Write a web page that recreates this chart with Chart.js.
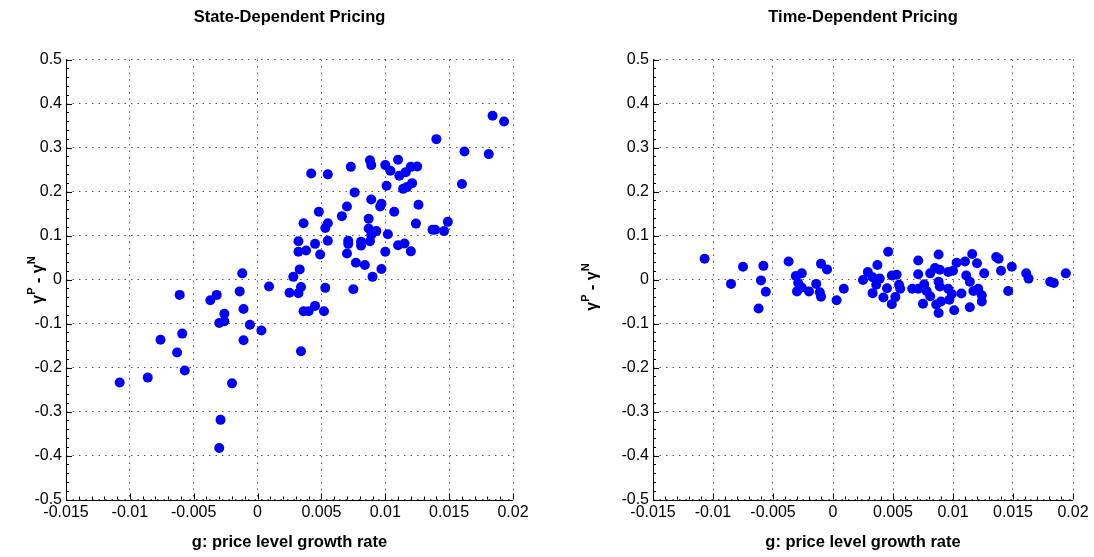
<!DOCTYPE html>
<html>
<head>
<meta charset="utf-8">
<script src="https://cdn.jsdelivr.net/npm/chart.js@4.4.1/dist/chart.umd.min.js"></script>
<style>
  html, body { margin: 0; padding: 0; background: #fff; }
  #wrap { position: relative; width: 1094px; height: 557px; }
  canvas { position: absolute; top: 0; }
  #stateChart { left: 0; }
  #timeChart { left: 547px; }
</style>
</head>
<body>
<div id="wrap">
  <canvas id="stateChart" width="547" height="557"></canvas>
  <canvas id="timeChart" width="547" height="557"></canvas>
</div>
<script>
const xTicks = [-0.015, -0.01, -0.005, 0, 0.005, 0.01, 0.015, 0.02]
const yTicks = [-0.5, -0.4, -0.3, -0.2, -0.1, 0, 0.1, 0.2, 0.3, 0.4, 0.5]

// state-dependent pricing: g vs gamma^P - gamma^N
const stateX = [
  0.0184, 0.0193, 0.0140, 0.0162, 0.0181, 0.0088, 0.0089, 0.0110, 0.0100, 0.0104,
  0.0120, 0.0125, 0.0116, 0.0111, 0.0073, 0.0042, 0.0055, 0.0160, 0.0101, 0.0114,
  0.0117, 0.0121, 0.0076, 0.0089, 0.0070, 0.0097, 0.0096, 0.0126, 0.0107, 0.0048,
  0.0066, 0.0087, 0.0036, 0.0055, 0.0053, 0.0124, 0.0149, 0.0137, 0.0139, 0.0146,
  0.0087, 0.0093, 0.0102, 0.0089, 0.0032, 0.0045, 0.0055, 0.0071, 0.0071, 0.0081,
  0.0081, 0.0088, 0.0110, 0.0115, 0.0032, 0.0038, 0.0049, 0.0070, 0.0100, 0.0120,
  0.0033, 0.0077, 0.0084, 0.0097, -0.0012, 0.0028, 0.0090, 0.0009, 0.0025, 0.0032,
  0.0034, 0.0053, 0.0075, -0.0061, -0.0032, -0.0037, -0.0014, -0.0011, -0.0026, -0.0026,
  -0.0030, -0.0006, 0.0003, 0.0036, 0.0040, 0.0045, 0.0052, -0.0076, -0.0059, -0.0063,
  -0.0011, 0.0034, -0.0057, -0.0086, -0.0108, -0.0020, -0.0029, -0.0030
]
const stateY = [
  0.372, 0.359, 0.319, 0.291, 0.285, 0.271, 0.260, 0.272, 0.260, 0.247,
  0.256, 0.257, 0.244, 0.236, 0.256, 0.241, 0.239, 0.217, 0.213, 0.206,
  0.210, 0.219, 0.198, 0.182, 0.166, 0.172, 0.166, 0.170, 0.154, 0.154,
  0.144, 0.138, 0.128, 0.128, 0.117, 0.127, 0.131, 0.113, 0.113, 0.110,
  0.116, 0.110, 0.103, 0.101, 0.087, 0.081, 0.088, 0.088, 0.081, 0.086,
  0.077, 0.087, 0.078, 0.082, 0.063, 0.066, 0.057, 0.059, 0.063, 0.064,
  0.023, 0.038, 0.033, 0.024, 0.014, 0.006, 0.006, -0.016, -0.030, -0.031,
  -0.017, -0.019, -0.022, -0.035, -0.035, -0.047, -0.027, -0.067, -0.078, -0.095,
  -0.099, -0.103, -0.116, -0.072, -0.072, -0.060, -0.072, -0.137, -0.123, -0.166,
  -0.138, -0.163, -0.207, -0.223, -0.234, -0.236, -0.319, -0.383
]

// time-dependent pricing
const timeX = [
  -0.0107, -0.0085, -0.0075, -0.0058, -0.0060, -0.0056, -0.0062, -0.0037, -0.0031, -0.0026,
  -0.0029, -0.0030, -0.0026, -0.0020, -0.0014, -0.0010, -0.0005, -0.0011, -0.0010, 0.0003,
  0.0009, 0.0025, 0.0029, 0.0037, 0.0033, 0.0039, 0.0036, 0.0033, 0.0042, 0.0045,
  0.0049, 0.0053, 0.0055, 0.0056, 0.0052, 0.0049, 0.0046, 0.0071, 0.0071, 0.0066,
  0.0071, 0.0076, 0.0078, 0.0081, 0.0075, 0.0081, 0.0085, 0.0088, 0.0089, 0.0088,
  0.0089, 0.0086, 0.0088, 0.0090, 0.0096, 0.0096, 0.0099, 0.0097, 0.0101, 0.0100,
  0.0103, 0.0107, 0.0110, 0.0111, 0.0114, 0.0116, 0.0120, 0.0117, 0.0121, 0.0124,
  0.0124, 0.0114, 0.0126, 0.0136, 0.0138, 0.0140, 0.0149, 0.0146, 0.0161, 0.0163,
  0.0181, 0.0184, 0.0194
]
const timeY = [
  0.047, -0.010, 0.029, 0.031, -0.002, -0.028, -0.066, 0.041, 0.008, 0.014,
  -0.008, -0.027, -0.018, -0.027, -0.010, 0.036, 0.023, -0.029, -0.039, -0.047,
  -0.021, -0.001, 0.017, 0.033, 0.005, 0.002, -0.012, -0.031, -0.041, -0.020,
  0.009, 0.011, -0.012, -0.021, -0.040, -0.056, 0.063, 0.043, 0.012, -0.021,
  -0.021, -0.011, -0.026, -0.038, -0.055, 0.014, 0.026, 0.057, 0.022, -0.005,
  -0.016, -0.057, -0.076, -0.050, 0.017, -0.021, -0.033, -0.046, -0.070, 0.020,
  0.038, -0.032, 0.041, 0.009, -0.005, 0.058, 0.037, -0.026, -0.021, -0.036,
  -0.050, -0.063, 0.014, 0.051, 0.047, 0.020, 0.029, -0.026, 0.014, 0.002,
  -0.005, -0.008, 0.014
]

const FONT = '"Liberation Sans", Arial, Helvetica, sans-serif'

// matlab-ish axes: inward major ticks, small minor ticks, solid left/bottom lines
const axisTicks = {
  id: 'axisTicks',
  afterDraw(chart) {
    const { ctx, chartArea: a } = chart
    const xs = chart.scales.x, ys = chart.scales.y
    const crisp = v => Math.round(v) + 0.5
    ctx.save()
    ctx.strokeStyle = '#000'
    ctx.lineWidth = 1
    ctx.beginPath()
    ctx.moveTo(crisp(a.left), a.top)
    ctx.lineTo(crisp(a.left), crisp(a.bottom))
    ctx.lineTo(a.right, crisp(a.bottom))
    xTicks.forEach((v, i) => {
      const px = crisp(xs.getPixelForValue(v))
      ctx.moveTo(px, a.bottom)
      ctx.lineTo(px, a.bottom - 6)
      if (i < xTicks.length - 1) {
        const step = (xTicks[i + 1] - v) / 5
        for (let k = 1; k < 5; k++) {
          const m = crisp(xs.getPixelForValue(v + k * step))
          ctx.moveTo(m, a.bottom)
          ctx.lineTo(m, a.bottom - 3)
        }
      }
    })
    yTicks.forEach((v, i) => {
      const py = crisp(ys.getPixelForValue(v))
      ctx.moveTo(a.left, py)
      ctx.lineTo(a.left + 6, py)
      if (i < yTicks.length - 1) {
        const step = (yTicks[i + 1] - v) / 5
        for (let k = 1; k < 5; k++) {
          const m = crisp(ys.getPixelForValue(v + k * step))
          ctx.moveTo(a.left, m)
          ctx.lineTo(a.left + 3, m)
        }
      }
    })
    ctx.stroke()
    ctx.restore()
  }
}

// y label with superscripts, drawn rotated
const yLabel = {
  id: 'yLabel',
  afterDraw(chart, args, opts) {
    const ctx = chart.ctx
    const parts = [['\u03b3', false], ['P', true], [' - \u03b3', false], ['N', true]]
    const big = 'bold 16px ' + FONT
    const small = 'bold 11px ' + FONT
    ctx.save()
    ctx.translate(opts.x, opts.y)
    ctx.rotate(-Math.PI / 2)
    ctx.fillStyle = '#000'
    ctx.textBaseline = 'alphabetic'
    let total = 0
    parts.forEach(([t, sup]) => {
      ctx.font = sup ? small : big
      total += ctx.measureText(t).width
    })
    let x = -total / 2
    parts.forEach(([t, sup]) => {
      ctx.font = sup ? small : big
      ctx.fillText(t, x, sup ? -8 : 0)
      x += ctx.measureText(t).width
    })
    ctx.restore()
  }
}

function makeChart(id, title, xs, ys, yAxisWidth, rightPad, labelPos) {
  const points = xs.map((x, i) => ({ x: x, y: ys[i] }))
  return new Chart(document.getElementById(id), {
    type: 'scatter',
    data: {
      datasets: [{
        data: points,
        pointRadius: 5,
        pointHoverRadius: 5,
        pointBackgroundColor: '#0000ff',
        pointBorderWidth: 0
      }]
    },
    options: {
      responsive: false,
      animation: false,
      devicePixelRatio: 1,
      events: [],
      layout: { padding: { left: 0, right: rightPad, top: 8, bottom: 0 } },
      plugins: {
        legend: { display: false },
        tooltip: { enabled: false },
        title: {
          display: true,
          text: title,
          fullSize: false,
          color: '#000',
          font: { family: FONT, size: 16.5, weight: 'bold', lineHeight: 1.2 },
          padding: { top: 0, bottom: 31.7 }
        },
        yLabel: labelPos
      },
      scales: {
        x: {
          type: 'linear',
          min: -0.015,
          max: 0.02,
          afterBuildTicks: s => { s.ticks = xTicks.map(v => ({ value: v })) },
          afterFit: s => { s.height = 57.5 },
          ticks: {
            color: '#000',
            padding: 3,
            maxRotation: 0,
            font: { family: FONT, size: 16 },
            callback: v => String(v)
          },
          grid: { color: '#555', lineWidth: 1, drawTicks: false },
          border: { display: false, dash: [1.5, 5] },
          title: {
            display: true,
            text: 'g: price level growth rate',
            color: '#000',
            font: { family: FONT, size: 16.5, weight: 'bold', lineHeight: 1.2 },
            padding: { top: 0, bottom: 5 }
          }
        },
        y: {
          type: 'linear',
          min: -0.5,
          max: 0.5,
          afterBuildTicks: s => { s.ticks = yTicks.map(v => ({ value: v })) },
          afterFit: s => { s.width = yAxisWidth },
          ticks: {
            color: '#000',
            padding: 4,
            font: { family: FONT, size: 16 },
            callback: v => String(v)
          },
          grid: { color: '#555', lineWidth: 1, drawTicks: false },
          border: { display: false, dash: [1.5, 5] }
        }
      }
    },
    plugins: [axisTicks, yLabel]
  })
}

makeChart('stateChart', 'State-Dependent Pricing', stateX, stateY, 66, 34, { x: 43, y: 280 })
makeChart('timeChart', 'Time-Dependent Pricing', timeX, timeY, 106, 21, { x: 50, y: 287 })
</script>
</body>
</html>
